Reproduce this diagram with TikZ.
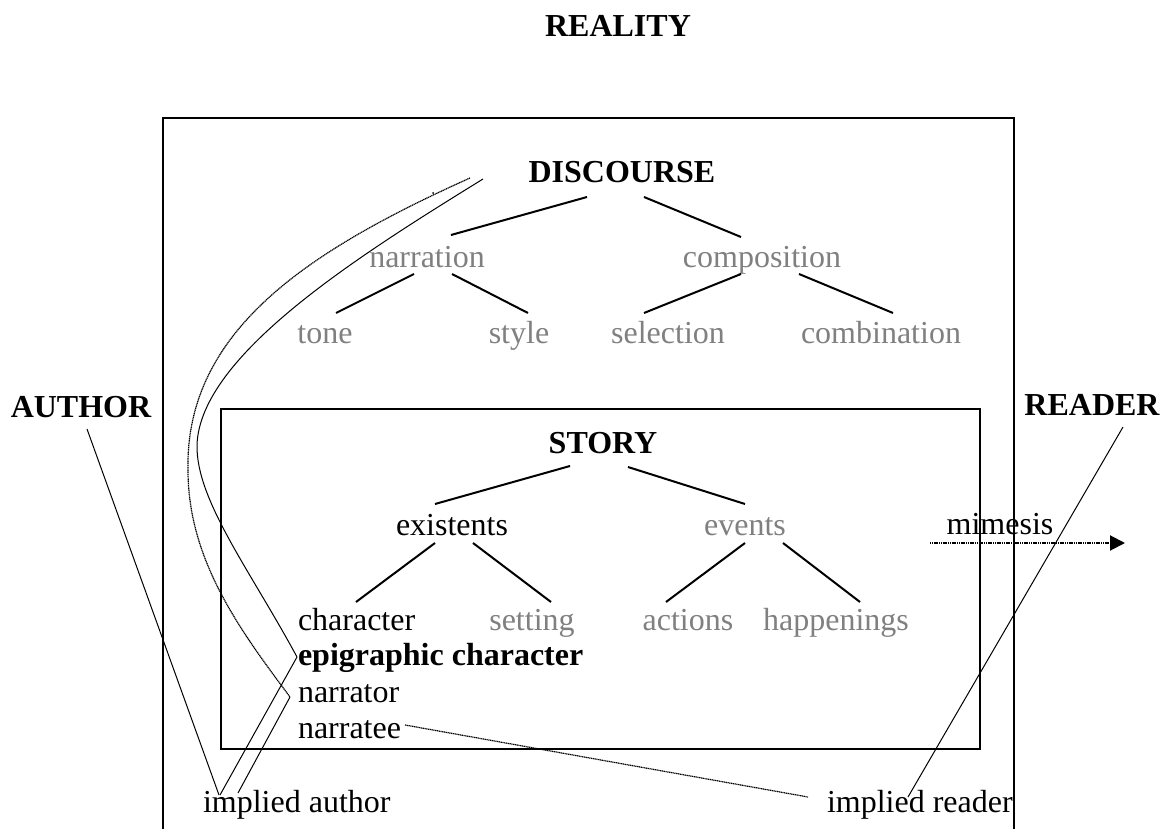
\documentclass[tikz,border=0pt]{standalone}
\usepackage{fontspec}
\setmainfont{Liberation Serif}
\usetikzlibrary{calc,arrows.meta}
\definecolor{txtgray}{HTML}{808080}
\begin{document}
\begin{tikzpicture}[x=0.5pt,y=-0.5pt,
  lbl/.style={inner sep=0pt, outer sep=0pt, anchor=base, font=\fontsize{16}{19}\selectfont},
  bld/.style={lbl, font=\fontsize{16}{19}\selectfont\bfseries},
  grey/.style={lbl, text=txtgray},
  branch/.style={line width=1pt},
  framebox/.style={line width=1pt},
  fineln/.style={line width=0.5pt},
  dotln/.style={line width=0.6pt, dash pattern=on 0.6pt off 0.3pt}]
\useasboundingbox (0,0) rectangle (1173,829);

% frames
\draw[framebox] (163,829) -- (163,118) -- (1014,118) -- (1014,829);
\draw[framebox] (221,409) rectangle (980,749);

% texts
\node[bld] (real) at (618,37) {REALITY};
\node[bld] (disc) at (622,183) {DISCOURSE};
\node[grey] (narr) at (427,267) {narration};
\node[grey] (comp) at (762,267) {composition};
\node[grey] (tone) at (325,343) {tone};
\node[grey] (style) at (519,343) {style};
\node[grey] (sel) at (668,343) {selection};
\node[grey] (comb) at (881,343) {combination};
\node[bld] (auth) at (81,417) {AUTHOR};
\node[bld] (read) at (1092,415) {READER};
\node[bld] (story) at (603,453) {STORY};
\node[lbl] (exist) at (452,535) {existents};
\node[grey] (events) at (745,535) {events};
\node[lbl] (mim) at (1000,534) {mimesis};
\node[lbl, anchor=base west] (char) at (298,630) {character};
\node[grey] (set) at (532,630) {setting};
\node[grey] (act) at (688,630) {actions};
\node[grey] (hap) at (836,630) {happenings};
\node[bld, anchor=base west] (epi) at (298,665) {epigraphic character};
\node[lbl, anchor=base west] (nrr) at (298,702) {narrator};
\node[lbl, anchor=base west] (nte) at (298,738) {narratee};
\node[lbl, anchor=base west] (ia) at (203,812) {implied author};
\node[lbl, anchor=base west] (ir) at (827,812) {implied reader};

% discourse tree
\draw[branch] ($(disc.base)+(-35,14)$) -- ($(narr.base)+(24,-32)$);
\draw[branch] ($(disc.base)+(22,14)$) -- ($(comp.base)+(-21,-30)$);
\draw[branch] ($(narr.base)+(-13,7)$) -- ($(tone.base)+(11,-30)$);
\draw[branch] ($(narr.base)+(25,7)$) -- ($(style.base)+(9,-30)$);
\draw[branch] ($(comp.base)+(-21,7)$) -- ($(sel.base)+(-24,-30)$);
\draw[branch] ($(comp.base)+(37,7)$) -- ($(comb.base)+(12,-30)$);

% story tree
\draw[branch] ($(story.base)+(-33,13)$) -- ($(exist.base)+(-17,-31)$);
\draw[branch] ($(story.base)+(25,14)$) -- ($(events.base)+(0,-31)$);
\draw[branch] ($(exist.base)+(-17,8)$) -- ($(char.base west)+(58,-28)$);
\draw[branch] ($(exist.base)+(21,8)$) -- ($(set.base)+(19,-28)$);
\draw[branch] ($(events.base)+(0,8)$) -- ($(act.base)+(-22,-28)$);
\draw[branch] ($(events.base)+(38,8)$) -- ($(hap.base)+(24,-28)$);

% curves from discourse
\coordinate (oc) at (470,178);
\coordinate (ic) at (483,179);
\coordinate (nrrend) at ($(nrr.base west)+(-8,-5)$);
\coordinate (epiend) at ($(epi.base west)+(-1,-8)$);
\draw[dotln] (oc) .. controls (310,250) and (185,330) .. (188,470)
                  .. controls (188,560) and (240,630) .. (nrrend);
\draw[fineln] (ic) .. controls (360,255) and (200,355) .. (197,445)
                   .. controls (196,500) and (250,570) .. (epiend);
\fill (433,193) circle[radius=0.5pt];

% lines to implied author / reader
\draw[fineln] ($(auth.base)+(6,12)$) -- ($(ia.base west)+(16,-17)$);
\draw[fineln] (epiend) -- ($(ia.base west)+(17,-17)$);
\draw[fineln] (nrrend) -- ($(ia.base west)+(35,-19)$);
\draw[fineln] ($(read.base)+(31,12)$) -- ($(ir.base west)+(81,-15)$);
\draw[dotln] ($(nte.base west)+(107,-13)$) -- ($(ir.base west)+(-19,-15)$);

% mimesis arrow
\coordinate (ms) at (930,543);
\coordinate (me) at (1125,543);
\draw[dotln, line width=1pt, -{Triangle[length=7.5pt,width=7.5pt]}] (ms) -- (me);
\end{tikzpicture}
\end{document}
